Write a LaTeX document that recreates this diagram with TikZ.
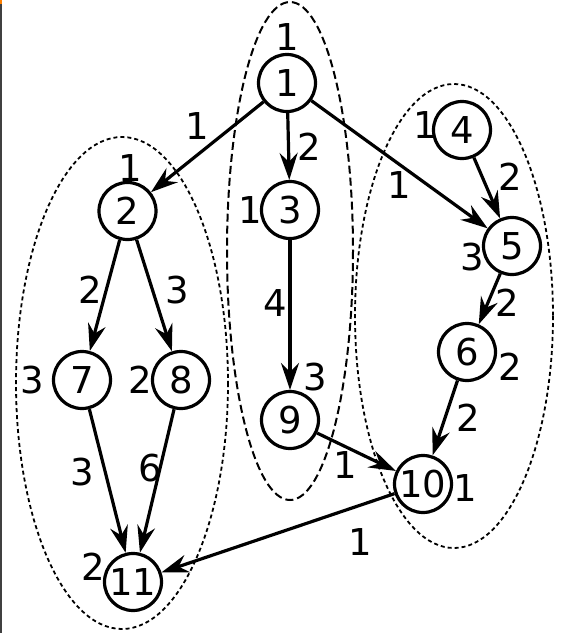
\documentclass[tikz,border=0pt]{standalone}
\usepackage{fontspec}
\setmainfont{DejaVu Sans}
\usepackage{tikz}
\usetikzlibrary{arrows.meta}
\usepackage{xcolor}

\begin{document}
\begin{tikzpicture}[x=1pt, y=-1pt,
    vertex/.style={circle, draw, line width=3.2pt, minimum size=57pt, inner sep=0pt,
                   font=\fontsize{37}{40}\selectfont},
    wt/.style={inner sep=0pt, font=\fontsize{37}{40}\selectfont},
    arrow/.style={-{Stealth[length=27pt, width=18pt, inset=9pt]}, line width=3.2pt},
    group/.style={draw, line width=1.8pt, dash pattern=on 4pt off 3pt},
    groupmid/.style={draw, line width=2pt, dash pattern=on 8pt off 4pt}
  ]
  \useasboundingbox (0,0) rectangle (563,633);
  \fill[black!75] (0,0) rectangle (2,633);
  \fill[orange] (0,0) rectangle (2,4);

  \draw[group] (122,383) ellipse [x radius=106, y radius=246];
  \draw[groupmid] (290,251) ellipse [x radius=63, y radius=249];
  \draw[group] (454,316) ellipse [x radius=99, y radius=232];

  \node[vertex] (n1) at (287,83) {1};
  \node[vertex] (n2) at (127.5,211) {2};
  \node[vertex] (n3) at (290,210) {3};
  \node[vertex] (n4) at (462,130) {4};
  \node[vertex] (n5) at (512,246) {5};
  \node[vertex] (n6) at (467,352) {6};
  \node[vertex] (n7) at (82,380) {7};
  \node[vertex] (n8) at (181,380) {8};
  \node[vertex] (n9) at (290,420) {9};
  \node[vertex] (n10) at (423,484) {10};
  \node[vertex] (n11) at (133,582) {11};

  \node[wt] (w1) at (287,37) {1};
  \node[wt] (w2) at (130,168) {1};
  \node[wt] (w3) at (250,210) {1};
  \node[wt] (w4) at (425,125) {1};
  \node[wt] (w5) at (472,257) {3};
  \node[wt] (w6) at (510,367) {2};
  \node[wt] (w7) at (32,380) {3};
  \node[wt] (w8) at (140,380) {2};
  \node[wt] (w9) at (315,377) {3};
  \node[wt] (w10) at (465,488) {1};
  \node[wt] (w11) at (93,567) {2};

  \draw[arrow] (n1) -- (n2);
  \draw[arrow] (n1) -- (n3);
  \draw[arrow] (n1) -- (n5);
  \draw[arrow] (n4) -- (n5);
  \draw[arrow] (n5) -- (n6);
  \draw[arrow] (n6) -- (n10);
  \draw[arrow] (n2) -- (n7);
  \draw[arrow] (n2) -- (n8);
  \draw[arrow] (n3) -- (n9);
  \draw[arrow] (n9) -- (n10);
  \draw[arrow] (n7) -- (n11);
  \draw[arrow] (n8) -- (n11);
  \draw[arrow] (n10) -- (n11);

  \node[wt] (c12) at (197,126) {1};
  \node[wt] (c13) at (309,147) {2};
  \node[wt] (c15) at (399,185) {1};
  \node[wt] (c45) at (510,177) {2};
  \node[wt] (c56) at (507,303) {2};
  \node[wt] (c610) at (468,418) {2};
  \node[wt] (c27) at (90,290) {2};
  \node[wt] (c28) at (177,290) {3};
  \node[wt] (c39) at (275,303) {4};
  \node[wt] (c910) at (345,465) {1};
  \node[wt] (c711) at (82,472) {3};
  \node[wt] (c811) at (150,468) {6};
  \node[wt] (c1011) at (360,542) {1};

\end{tikzpicture}
\end{document}
